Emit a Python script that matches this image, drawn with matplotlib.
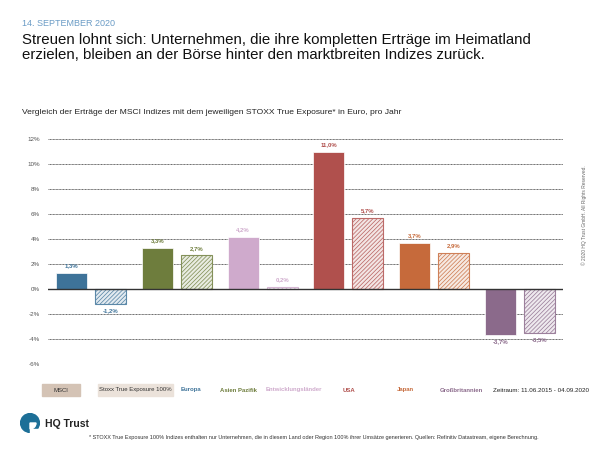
import matplotlib.pyplot as plt
import matplotlib.patches as mpatches
from matplotlib.colors import to_rgb
import numpy as np

plt.rcParams['font.family'] = ['Liberation Sans', 'DejaVu Sans']
plt.rcParams['hatch.linewidth'] = 0.55

# data: MSCI vs. STOXX True Exposure 100%, return p.a. in %
regions = ['Europa', 'Asien Pazifik', 'Entwicklungsländer', 'USA', 'Japan', 'Großbritannien']
msci = [1.3, 3.3, 4.2, 11.0, 3.7, -3.7]
stoxx = [-1.2, 2.7, 0.2, 5.7, 2.9, -3.5]
colors = ['#3e7399', '#6e7d3d', '#cfaacc', '#b0504d', '#c66a3b', '#8b6a8b']
yticks = [-6, -4, -2, 0, 2, 4, 6, 8, 10, 12]

W, H = 600, 450
fig = plt.figure(figsize=(6, 4.5), dpi=100)


def fx(px):
    return px / W


def fy(py):
    return 1 - py / H


def tint(c, k):
    r, g, b = to_rgb(c)
    return (1 - k * (1 - r), 1 - k * (1 - g), 1 - k * (1 - b))


ax = fig.add_axes([fx(48), fy(364), fx(515), 225 / H])

x = np.arange(len(regions))
off = 0.227
bw = 0.36
ax.bar(x - off, msci, bw, color=colors, edgecolor='white', linewidth=0.5, zorder=3)
for i in range(len(regions)):
    ax.bar(x[i] + off, stoxx[i], bw, color=tint(colors[i], 0.15), edgecolor=tint(colors[i], 0.85),
           hatch='////////', linewidth=0.8, zorder=3)

# value labels
for i in range(len(regions)):
    for xv, v in ((x[i] - off, msci[i]), (x[i] + off, stoxx[i])):
        txt = f"{v:.1f}%".replace('.', ',')
        if v >= 0:
            ax.text(xv, v + 0.35, txt, ha='center', va='bottom', fontsize=4.3,
                    color=colors[i], fontweight='bold')
        else:
            ax.text(xv, v - 0.35, txt, ha='center', va='top', fontsize=4.3,
                    color=colors[i], fontweight='bold')

ax.set_xlim(-0.5, len(regions) - 0.5)
ax.set_ylim(-6, 12)
ax.set_yticks(yticks)
ax.set_yticklabels([f"{t}%" for t in yticks])
ax.set_xticks([])
ax.tick_params(axis='y', length=0, pad=6, labelsize=4.5, labelcolor='#555555')
for s in ax.spines.values():
    s.set_visible(False)
for t in yticks:
    if t == 0:
        ax.axhline(0, color='#333333', lw=1.0, zorder=4)
    else:
        ax.axhline(t, color='#666666', lw=0.7, ls=(0, (1, 0.5)), zorder=1)

# header
fig.text(fx(22), fy(23), '14. SEPTEMBER 2020', fontsize=6.5, color='#6b9cc6', va='center')
fig.text(fx(22), fy(33), 'Streuen lohnt sich: Unternehmen, die ihre kompletten Erträge im Heimatland\n'
         'erzielen, bleiben an der Börse hinter den marktbreiten Indizes zurück.',
         fontsize=10.8, va='top', linespacing=1.08, color='#111111')
fig.text(fx(22), fy(112), 'Vergleich der Erträge der MSCI Indizes mit dem jeweiligen STOXX True Exposure* in Euro, pro Jahr',
         fontsize=6.1, va='center', color='#222222')

# legend row
fig.patches.append(mpatches.Rectangle((fx(42), fy(396)), fx(38), 12 / H, transform=fig.transFigure,
                                      color='#d4c3b5'))
fig.patches.append(mpatches.Rectangle((fx(98), fy(396)), fx(75), 12 / H, transform=fig.transFigure,
                                      color='#ebe2da'))
fig.text(fx(61), fy(390), 'MSCI', fontsize=4.3, ha='center', va='center', color='#333333')
fig.text(fx(135.5), fy(390), 'Stoxx True Exposure 100%', fontsize=4.3, ha='center', va='center', color='#333333')
leg_x = [191, 238, 294, 349, 405, 461]
for lx, name, c in zip(leg_x, regions, colors):
    fig.text(fx(lx), fy(390), name, fontsize=4.3, ha='center', va='center', color=c, fontweight='bold')
fig.text(fx(541), fy(390), 'Zeitraum: 11.06.2015 - 04.09.2020', fontsize=4.5, ha='center', va='center',
         color='#222222')

# logo
lax = fig.add_axes([fx(20), fy(433), fx(20), 20 / H])
lax.set_aspect('equal')
lax.add_patch(mpatches.Circle((0.5, 0.5), 0.47, color='#1d6f97'))
lax.add_patch(mpatches.Wedge((0.5, 0.5), 0.3, -90, 0, color='white'))
lax.add_patch(mpatches.Rectangle((0.5, 0.0), 0.5, 0.2, color='white'))
lax.set_xlim(0, 1)
lax.set_ylim(0, 1)
lax.axis('off')
fig.text(fx(45), fy(424), 'HQ Trust', fontsize=7.5, fontweight='bold', va='center', color='#222222')

fig.text(fx(89), fy(438), '* STOXX True Exposure 100% Indizes enthalten nur Unternehmen, die in diesem Land oder Region '
         '100% ihrer Umsätze generieren. Quellen: Refinitiv Datastream, eigene Berechnung.',
         fontsize=4, va='center', color='#333333')
fig.text(fx(584), fy(215), '© 2020 HQ Trust GmbH. All Rights Reserved.', fontsize=3.5, rotation=90,
         ha='center', va='center', color='#666666')

fig.savefig('out.png', dpi=100)
